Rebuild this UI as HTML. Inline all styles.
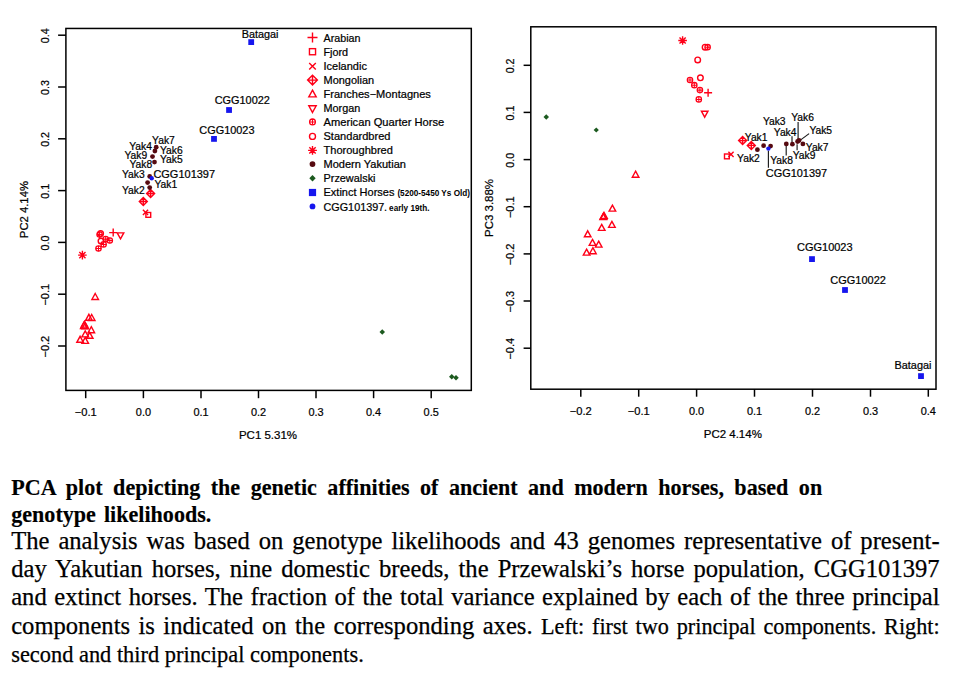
<!DOCTYPE html>
<html><head><meta charset="utf-8"><title>PCA plot</title>
<style>
html,body{margin:0;padding:0;background:#fff;}
body{width:964px;height:676px;position:relative;overflow:hidden;font-family:"Liberation Serif",serif;color:#000;}
.ln{position:absolute;left:11.2px;white-space:nowrap;text-align:justify;text-align-last:justify;line-height:28px;height:28px;}
.ln.nj{text-align:left;text-align-last:left;}
.b{font-weight:bold;font-size:22.1px;-webkit-text-stroke:0.15px #000;}
.r{font-size:24.6px;-webkit-text-stroke:0.25px #000;}
.s{font-size:22.2px;}
</style></head><body>
<svg width="964" height="462" viewBox="0 0 964 462" style="position:absolute;left:0;top:0" font-family="'Liberation Sans', sans-serif" fill="#000" stroke="#000" stroke-width="0.22" paint-order="stroke">
<rect x="65.9" y="28.45" width="405.40" height="361.95" fill="none" stroke="#000" stroke-width="1.5"/>
<path d="M58.10000000000001 35.2H65.9" stroke="#000" stroke-width="1.5"/>
<text transform="translate(48.60 35.80) rotate(-90)" font-size="10.9" text-anchor="middle" textLength="14.9" lengthAdjust="spacingAndGlyphs">0.4</text>
<path d="M58.10000000000001 87.0H65.9" stroke="#000" stroke-width="1.5"/>
<text transform="translate(48.60 87.60) rotate(-90)" font-size="10.9" text-anchor="middle" textLength="14.9" lengthAdjust="spacingAndGlyphs">0.3</text>
<path d="M58.10000000000001 138.8H65.9" stroke="#000" stroke-width="1.5"/>
<text transform="translate(48.60 139.40) rotate(-90)" font-size="10.9" text-anchor="middle" textLength="14.9" lengthAdjust="spacingAndGlyphs">0.2</text>
<path d="M58.10000000000001 190.6H65.9" stroke="#000" stroke-width="1.5"/>
<text transform="translate(48.60 191.20) rotate(-90)" font-size="10.9" text-anchor="middle" textLength="14.9" lengthAdjust="spacingAndGlyphs">0.1</text>
<path d="M58.10000000000001 242.4H65.9" stroke="#000" stroke-width="1.5"/>
<text transform="translate(48.60 243.00) rotate(-90)" font-size="10.9" text-anchor="middle" textLength="14.9" lengthAdjust="spacingAndGlyphs">0.0</text>
<path d="M58.10000000000001 294.2H65.9" stroke="#000" stroke-width="1.5"/>
<text transform="translate(48.60 294.80) rotate(-90)" font-size="10.9" text-anchor="middle" textLength="21.6" lengthAdjust="spacingAndGlyphs">−0.1</text>
<path d="M58.10000000000001 346.0H65.9" stroke="#000" stroke-width="1.5"/>
<text transform="translate(48.60 346.60) rotate(-90)" font-size="10.9" text-anchor="middle" textLength="21.6" lengthAdjust="spacingAndGlyphs">−0.2</text>
<path d="M85.7 390.4V398.2" stroke="#000" stroke-width="1.5"/>
<text x="85.70" y="416.20" font-size="10.9" text-anchor="middle" textLength="22.0" lengthAdjust="spacingAndGlyphs">−0.1</text>
<path d="M143.4 390.4V398.2" stroke="#000" stroke-width="1.5"/>
<text x="143.40" y="416.20" font-size="10.9" text-anchor="middle" textLength="15.2" lengthAdjust="spacingAndGlyphs">0.0</text>
<path d="M201.0 390.4V398.2" stroke="#000" stroke-width="1.5"/>
<text x="201.00" y="416.20" font-size="10.9" text-anchor="middle" textLength="15.2" lengthAdjust="spacingAndGlyphs">0.1</text>
<path d="M258.5 390.4V398.2" stroke="#000" stroke-width="1.5"/>
<text x="258.50" y="416.20" font-size="10.9" text-anchor="middle" textLength="15.2" lengthAdjust="spacingAndGlyphs">0.2</text>
<path d="M316.0 390.4V398.2" stroke="#000" stroke-width="1.5"/>
<text x="316.00" y="416.20" font-size="10.9" text-anchor="middle" textLength="15.2" lengthAdjust="spacingAndGlyphs">0.3</text>
<path d="M373.6 390.4V398.2" stroke="#000" stroke-width="1.5"/>
<text x="373.60" y="416.20" font-size="10.9" text-anchor="middle" textLength="15.2" lengthAdjust="spacingAndGlyphs">0.4</text>
<path d="M431.2 390.4V398.2" stroke="#000" stroke-width="1.5"/>
<text x="431.20" y="416.20" font-size="10.9" text-anchor="middle" textLength="15.2" lengthAdjust="spacingAndGlyphs">0.5</text>
<text transform="translate(27.80 209.60) rotate(-90)" font-size="10.9" text-anchor="middle" textLength="57.1" lengthAdjust="spacingAndGlyphs">PC2 4.14%</text>
<text x="268.00" y="439.10" font-size="10.9" text-anchor="middle" textLength="58.1" lengthAdjust="spacingAndGlyphs">PC1 5.31%</text>
<path d="M95.20 293.50L98.50 299.50L91.90 299.50Z" stroke="#ff0018" stroke-width="1.4" fill="none" stroke-linejoin="miter"/>
<path d="M88.90 314.30L92.20 320.30L85.60 320.30Z" stroke="#ff0018" stroke-width="1.4" fill="none" stroke-linejoin="miter"/>
<path d="M91.70 314.50L95.00 320.50L88.40 320.50Z" stroke="#ff0018" stroke-width="1.4" fill="none" stroke-linejoin="miter"/>
<path d="M84.50 321.10L87.80 327.10L81.20 327.10Z" stroke="#ff0018" stroke-width="1.4" fill="none" stroke-linejoin="miter"/>
<path d="M85.20 322.90L88.50 328.90L81.90 328.90Z" stroke="#ff0018" stroke-width="1.4" fill="none" stroke-linejoin="miter"/>
<path d="M83.80 322.50L87.10 328.50L80.50 328.50Z" stroke="#ff0018" stroke-width="1.4" fill="none" stroke-linejoin="miter"/>
<path d="M91.30 326.70L94.60 332.70L88.00 332.70Z" stroke="#ff0018" stroke-width="1.4" fill="none" stroke-linejoin="miter"/>
<path d="M85.20 330.90L88.50 336.90L81.90 336.90Z" stroke="#ff0018" stroke-width="1.4" fill="none" stroke-linejoin="miter"/>
<path d="M89.70 332.30L93.00 338.30L86.40 338.30Z" stroke="#ff0018" stroke-width="1.4" fill="none" stroke-linejoin="miter"/>
<path d="M80.10 336.30L83.40 342.30L76.80 342.30Z" stroke="#ff0018" stroke-width="1.4" fill="none" stroke-linejoin="miter"/>
<path d="M85.20 337.40L88.50 343.40L81.90 343.40Z" stroke="#ff0018" stroke-width="1.4" fill="none" stroke-linejoin="miter"/>
<path d="M78.10 255.10H86.70M82.40 250.80V259.40M79.30 252.00L85.50 258.20M79.30 258.20L85.50 252.00" stroke="#ff0018" stroke-width="1.4" fill="none"/>
<circle cx="105.70" cy="239.10" r="2.7" stroke="#ff0018" stroke-width="1.26" fill="none"/><path d="M103.00 239.10H108.40M105.70 236.40V241.80" stroke="#ff0018" stroke-width="1.05" fill="none"/>
<circle cx="109.80" cy="240.50" r="2.7" stroke="#ff0018" stroke-width="1.26" fill="none"/><path d="M107.10 240.50H112.50M109.80 237.80V243.20" stroke="#ff0018" stroke-width="1.05" fill="none"/>
<circle cx="103.60" cy="244.40" r="2.7" stroke="#ff0018" stroke-width="1.26" fill="none"/><path d="M100.90 244.40H106.30M103.60 241.70V247.10" stroke="#ff0018" stroke-width="1.05" fill="none"/>
<circle cx="98.50" cy="248.50" r="2.7" stroke="#ff0018" stroke-width="1.26" fill="none"/><path d="M95.80 248.50H101.20M98.50 245.80V251.20" stroke="#ff0018" stroke-width="1.05" fill="none"/>
<circle cx="99.60" cy="234.60" r="2.7" stroke="#ff0018" stroke-width="1.26" fill="none"/><path d="M96.90 234.60H102.30M99.60 231.90V237.30" stroke="#ff0018" stroke-width="1.05" fill="none"/>
<circle cx="100.60" cy="233.60" r="2.8" stroke="#ff0018" stroke-width="1.4" fill="none"/>
<circle cx="101.00" cy="241.00" r="2.8" stroke="#ff0018" stroke-width="1.4" fill="none"/>
<path d="M109.20 232.60H117.20M113.20 228.60V236.60" stroke="#ff0018" stroke-width="1.4" fill="none"/>
<path d="M120.50 238.90L123.80 232.90L117.20 232.90Z" stroke="#ff0018" stroke-width="1.4" fill="none"/>
<path d="M142.90 209.80L148.10 215.00M142.90 215.00L148.10 209.80" stroke="#ff0018" stroke-width="1.4" fill="none"/>
<rect x="145.90" y="212.50" width="4.8" height="4.8" stroke="#ff0018" stroke-width="1.4" fill="none"/>
<path d="M146.60 193.50L150.60 189.50L154.60 193.50L150.60 197.50ZM146.60 193.50H154.60M150.60 189.50V197.50" stroke="#ff0018" stroke-width="1.4" fill="none"/>
<path d="M139.30 201.50L143.30 197.50L147.30 201.50L143.30 205.50ZM139.30 201.50H147.30M143.30 197.50V205.50" stroke="#ff0018" stroke-width="1.4" fill="none"/>
<circle cx="156.20" cy="147.20" r="2.4" fill="#560a10" stroke="none"/>
<circle cx="154.90" cy="151.00" r="2.4" fill="#560a10" stroke="none"/>
<circle cx="152.50" cy="156.60" r="2.4" fill="#560a10" stroke="none"/>
<circle cx="154.50" cy="162.10" r="2.4" fill="#560a10" stroke="none"/>
<circle cx="149.70" cy="176.40" r="2.4" fill="#560a10" stroke="none"/>
<circle cx="147.60" cy="182.60" r="2.4" fill="#560a10" stroke="none"/>
<circle cx="149.70" cy="187.60" r="2.4" fill="#560a10" stroke="none"/>
<circle cx="151.70" cy="178.20" r="2.2" fill="#1616ee" stroke="none"/>
<path d="M379.50 332.00L382.25 329.25L385.00 332.00L382.25 334.75Z" fill="#1c5a1f" stroke="none"/>
<path d="M449.00 376.75L451.75 374.00L454.50 376.75L451.75 379.50Z" fill="#1c5a1f" stroke="none"/>
<path d="M453.25 377.75L456.00 375.00L458.75 377.75L456.00 380.50Z" fill="#1c5a1f" stroke="none"/>
<rect x="248.30" y="39.20" width="5.8" height="5.8" fill="#1616ee" stroke="none"/>
<rect x="226.15" y="107.10" width="5.8" height="5.8" fill="#1616ee" stroke="none"/>
<rect x="211.10" y="136.00" width="5.8" height="5.8" fill="#1616ee" stroke="none"/>
<text x="152.10" y="143.70" font-size="10.9" text-anchor="start" textLength="22.7" lengthAdjust="spacingAndGlyphs">Yak7</text>
<text x="129.20" y="149.50" font-size="10.9" text-anchor="start" textLength="22.7" lengthAdjust="spacingAndGlyphs">Yak4</text>
<text x="160.00" y="154.00" font-size="10.9" text-anchor="start" textLength="22.7" lengthAdjust="spacingAndGlyphs">Yak6</text>
<text x="124.50" y="159.30" font-size="10.9" text-anchor="start" textLength="22.7" lengthAdjust="spacingAndGlyphs">Yak9</text>
<text x="160.00" y="163.40" font-size="10.9" text-anchor="start" textLength="22.7" lengthAdjust="spacingAndGlyphs">Yak5</text>
<text x="129.50" y="168.10" font-size="10.9" text-anchor="start" textLength="22.7" lengthAdjust="spacingAndGlyphs">Yak8</text>
<text x="122.00" y="178.40" font-size="10.9" text-anchor="start" textLength="22.7" lengthAdjust="spacingAndGlyphs">Yak3</text>
<text x="154.50" y="188.40" font-size="10.9" text-anchor="start" textLength="22.7" lengthAdjust="spacingAndGlyphs">Yak1</text>
<text x="122.00" y="194.00" font-size="10.9" text-anchor="start" textLength="22.7" lengthAdjust="spacingAndGlyphs">Yak2</text>
<text x="153.40" y="178.40" font-size="10.9" text-anchor="start" textLength="61.7" lengthAdjust="spacingAndGlyphs">CGG101397</text>
<text x="241.70" y="38.10" font-size="10.9" text-anchor="start" textLength="36.8" lengthAdjust="spacingAndGlyphs">Batagai</text>
<text x="214.70" y="104.10" font-size="10.9" text-anchor="start" textLength="55.2" lengthAdjust="spacingAndGlyphs">CGG10022</text>
<text x="199.30" y="133.80" font-size="10.9" text-anchor="start" textLength="55.2" lengthAdjust="spacingAndGlyphs">CGG10023</text>
<path d="M307.50 37.50H317.50M312.50 32.50V42.50" stroke="#ff0018" stroke-width="1.4" fill="none"/>
<rect x="309.45" y="48.65" width="6.1" height="6.1" stroke="#ff0018" stroke-width="1.4" fill="none"/>
<path d="M309.20 62.90L315.80 69.50M309.20 69.50L315.80 62.90" stroke="#ff0018" stroke-width="1.4" fill="none"/>
<path d="M307.60 80.10L312.50 75.20L317.40 80.10L312.50 85.00ZM307.60 80.10H317.40M312.50 75.20V85.00" stroke="#ff0018" stroke-width="1.4" fill="none"/>
<path d="M312.50 90.15L316.20 96.85L308.80 96.85Z" stroke="#ff0018" stroke-width="1.4" fill="none" stroke-linejoin="miter"/>
<path d="M312.50 112.45L316.20 105.75L308.80 105.75Z" stroke="#ff0018" stroke-width="1.4" fill="none"/>
<circle cx="312.50" cy="121.90" r="2.9" stroke="#ff0018" stroke-width="1.26" fill="none"/><path d="M309.60 121.90H315.40M312.50 119.00V124.80" stroke="#ff0018" stroke-width="1.05" fill="none"/>
<circle cx="312.50" cy="136.40" r="3.0" stroke="#ff0018" stroke-width="1.4" fill="none"/>
<path d="M308.10 150.40H316.90M312.50 146.00V154.80M309.33 147.23L315.67 153.57M309.33 153.57L315.67 147.23" stroke="#ff0018" stroke-width="1.4" fill="none"/>
<circle cx="312.50" cy="164.10" r="2.9" fill="#560a10" stroke="none"/>
<path d="M309.30 178.30L312.50 175.10L315.70 178.30L312.50 181.50Z" fill="#1c5a1f" stroke="none"/>
<rect x="308.90" y="188.90" width="7.2" height="7.2" fill="#1616ee" stroke="none"/>
<circle cx="312.50" cy="206.40" r="2.9" fill="#1616ee" stroke="none"/>
<text x="323.50" y="41.75" font-size="10.9" text-anchor="start" textLength="37.0" lengthAdjust="spacingAndGlyphs">Arabian</text>
<text x="323.50" y="55.85" font-size="10.9" text-anchor="start" textLength="24.6" lengthAdjust="spacingAndGlyphs">Fjord</text>
<text x="323.50" y="70.05" font-size="10.9" text-anchor="start" textLength="43.4" lengthAdjust="spacingAndGlyphs">Icelandic</text>
<text x="323.50" y="84.15" font-size="10.9" text-anchor="start" textLength="50.6" lengthAdjust="spacingAndGlyphs">Mongolian</text>
<text x="323.50" y="98.15" font-size="10.9" text-anchor="start" textLength="107.4" lengthAdjust="spacingAndGlyphs">Franches−Montagnes</text>
<text x="323.50" y="112.25" font-size="10.9" text-anchor="start" textLength="36.8" lengthAdjust="spacingAndGlyphs">Morgan</text>
<text x="323.50" y="126.25" font-size="10.9" text-anchor="start" textLength="120.8" lengthAdjust="spacingAndGlyphs">American Quarter Horse</text>
<text x="323.50" y="140.45" font-size="10.9" text-anchor="start" textLength="67.0" lengthAdjust="spacingAndGlyphs">Standardbred</text>
<text x="323.50" y="154.45" font-size="10.9" text-anchor="start" textLength="69.4" lengthAdjust="spacingAndGlyphs">Thoroughbred</text>
<text x="323.50" y="168.35" font-size="10.9" text-anchor="start" textLength="82.4" lengthAdjust="spacingAndGlyphs">Modern Yakutian</text>
<text x="323.50" y="182.45" font-size="10.9" text-anchor="start" textLength="52.0" lengthAdjust="spacingAndGlyphs">Przewalski</text>
<text x="323.50" y="196.45" font-size="10.9" text-anchor="start" textLength="71.0" lengthAdjust="spacingAndGlyphs">Extinct Horses</text>
<text x="323.50" y="210.55" font-size="10.9" text-anchor="start" textLength="60.7" lengthAdjust="spacingAndGlyphs">CGG101397</text>
<text x="397.40" y="196.40" font-size="8.2" text-anchor="start" textLength="72.6" lengthAdjust="spacingAndGlyphs" font-weight="bold" stroke="none">(5200-5450 Ys Old)</text>
<text x="383.90" y="210.60" font-size="10.9" text-anchor="start">.</text>
<text x="389.10" y="211.10" font-size="8.2" text-anchor="start" textLength="40.4" lengthAdjust="spacingAndGlyphs" font-weight="bold" stroke="none">early 19th.</text>
<rect x="530.8" y="26.8" width="405.20" height="362.40" fill="none" stroke="#000" stroke-width="1.5"/>
<path d="M523.5999999999999 65.3H530.8" stroke="#000" stroke-width="1.5"/>
<text transform="translate(514.30 65.90) rotate(-90)" font-size="10.9" text-anchor="middle" textLength="14.9" lengthAdjust="spacingAndGlyphs">0.2</text>
<path d="M523.5999999999999 112.4H530.8" stroke="#000" stroke-width="1.5"/>
<text transform="translate(514.30 113.00) rotate(-90)" font-size="10.9" text-anchor="middle" textLength="14.9" lengthAdjust="spacingAndGlyphs">0.1</text>
<path d="M523.5999999999999 159.6H530.8" stroke="#000" stroke-width="1.5"/>
<text transform="translate(514.30 160.20) rotate(-90)" font-size="10.9" text-anchor="middle" textLength="14.9" lengthAdjust="spacingAndGlyphs">0.0</text>
<path d="M523.5999999999999 206.7H530.8" stroke="#000" stroke-width="1.5"/>
<text transform="translate(514.30 207.30) rotate(-90)" font-size="10.9" text-anchor="middle" textLength="21.6" lengthAdjust="spacingAndGlyphs">−0.1</text>
<path d="M523.5999999999999 253.9H530.8" stroke="#000" stroke-width="1.5"/>
<text transform="translate(514.30 254.50) rotate(-90)" font-size="10.9" text-anchor="middle" textLength="21.6" lengthAdjust="spacingAndGlyphs">−0.2</text>
<path d="M523.5999999999999 301.0H530.8" stroke="#000" stroke-width="1.5"/>
<text transform="translate(514.30 301.60) rotate(-90)" font-size="10.9" text-anchor="middle" textLength="21.6" lengthAdjust="spacingAndGlyphs">−0.3</text>
<path d="M523.5999999999999 348.2H530.8" stroke="#000" stroke-width="1.5"/>
<text transform="translate(514.30 348.80) rotate(-90)" font-size="10.9" text-anchor="middle" textLength="21.6" lengthAdjust="spacingAndGlyphs">−0.4</text>
<path d="M580.8 389.2V396.7" stroke="#000" stroke-width="1.5"/>
<text x="580.80" y="415.10" font-size="10.9" text-anchor="middle" textLength="22.0" lengthAdjust="spacingAndGlyphs">−0.2</text>
<path d="M638.7 389.2V396.7" stroke="#000" stroke-width="1.5"/>
<text x="638.70" y="415.10" font-size="10.9" text-anchor="middle" textLength="22.0" lengthAdjust="spacingAndGlyphs">−0.1</text>
<path d="M696.6 389.2V396.7" stroke="#000" stroke-width="1.5"/>
<text x="696.60" y="415.10" font-size="10.9" text-anchor="middle" textLength="15.2" lengthAdjust="spacingAndGlyphs">0.0</text>
<path d="M754.5 389.2V396.7" stroke="#000" stroke-width="1.5"/>
<text x="754.50" y="415.10" font-size="10.9" text-anchor="middle" textLength="15.2" lengthAdjust="spacingAndGlyphs">0.1</text>
<path d="M812.5 389.2V396.7" stroke="#000" stroke-width="1.5"/>
<text x="812.50" y="415.10" font-size="10.9" text-anchor="middle" textLength="15.2" lengthAdjust="spacingAndGlyphs">0.2</text>
<path d="M870.5 389.2V396.7" stroke="#000" stroke-width="1.5"/>
<text x="870.50" y="415.10" font-size="10.9" text-anchor="middle" textLength="15.2" lengthAdjust="spacingAndGlyphs">0.3</text>
<path d="M928.3 389.2V396.7" stroke="#000" stroke-width="1.5"/>
<text x="928.30" y="415.10" font-size="10.9" text-anchor="middle" textLength="15.2" lengthAdjust="spacingAndGlyphs">0.4</text>
<text transform="translate(493.20 208.00) rotate(-90)" font-size="10.9" text-anchor="middle" textLength="58.0" lengthAdjust="spacingAndGlyphs">PC3 3.88%</text>
<text x="732.80" y="437.90" font-size="10.9" text-anchor="middle" textLength="58.1" lengthAdjust="spacingAndGlyphs">PC2 4.14%</text>
<path d="M635.60 171.20L638.90 177.20L632.30 177.20Z" stroke="#ff0018" stroke-width="1.4" fill="none" stroke-linejoin="miter"/>
<path d="M612.40 205.10L615.70 211.10L609.10 211.10Z" stroke="#ff0018" stroke-width="1.4" fill="none" stroke-linejoin="miter"/>
<path d="M603.20 213.60L606.50 219.60L599.90 219.60Z" stroke="#ff0018" stroke-width="1.4" fill="none" stroke-linejoin="miter"/>
<path d="M604.00 212.40L607.30 218.40L600.70 218.40Z" stroke="#ff0018" stroke-width="1.4" fill="none" stroke-linejoin="miter"/>
<path d="M603.60 213.00L606.90 219.00L600.30 219.00Z" stroke="#ff0018" stroke-width="1.4" fill="none" stroke-linejoin="miter"/>
<path d="M611.90 221.40L615.20 227.40L608.60 227.40Z" stroke="#ff0018" stroke-width="1.4" fill="none" stroke-linejoin="miter"/>
<path d="M601.70 224.40L605.00 230.40L598.40 230.40Z" stroke="#ff0018" stroke-width="1.4" fill="none" stroke-linejoin="miter"/>
<path d="M587.70 230.80L591.00 236.80L584.40 236.80Z" stroke="#ff0018" stroke-width="1.4" fill="none" stroke-linejoin="miter"/>
<path d="M592.50 239.40L595.80 245.40L589.20 245.40Z" stroke="#ff0018" stroke-width="1.4" fill="none" stroke-linejoin="miter"/>
<path d="M598.70 241.10L602.00 247.10L595.40 247.10Z" stroke="#ff0018" stroke-width="1.4" fill="none" stroke-linejoin="miter"/>
<path d="M592.90 247.70L596.20 253.70L589.60 253.70Z" stroke="#ff0018" stroke-width="1.4" fill="none" stroke-linejoin="miter"/>
<path d="M586.60 249.10L589.90 255.10L583.30 255.10Z" stroke="#ff0018" stroke-width="1.4" fill="none" stroke-linejoin="miter"/>
<path d="M678.30 40.50H686.90M682.60 36.20V44.80M679.50 37.40L685.70 43.60M679.50 43.60L685.70 37.40" stroke="#ff0018" stroke-width="1.4" fill="none"/>
<circle cx="705.10" cy="47.20" r="2.8" stroke="#ff0018" stroke-width="1.4" fill="none"/>
<circle cx="707.60" cy="47.20" r="2.7" stroke="#ff0018" stroke-width="1.26" fill="none"/><path d="M704.90 47.20H710.30M707.60 44.50V49.90" stroke="#ff0018" stroke-width="1.05" fill="none"/>
<circle cx="697.70" cy="59.90" r="2.8" stroke="#ff0018" stroke-width="1.4" fill="none"/>
<circle cx="700.40" cy="77.80" r="2.8" stroke="#ff0018" stroke-width="1.4" fill="none"/>
<circle cx="690.00" cy="80.00" r="2.7" stroke="#ff0018" stroke-width="1.26" fill="none"/><path d="M687.30 80.00H692.70M690.00 77.30V82.70" stroke="#ff0018" stroke-width="1.05" fill="none"/>
<circle cx="694.30" cy="85.20" r="2.7" stroke="#ff0018" stroke-width="1.26" fill="none"/><path d="M691.60 85.20H697.00M694.30 82.50V87.90" stroke="#ff0018" stroke-width="1.05" fill="none"/>
<circle cx="699.90" cy="90.10" r="2.7" stroke="#ff0018" stroke-width="1.26" fill="none"/><path d="M697.20 90.10H702.60M699.90 87.40V92.80" stroke="#ff0018" stroke-width="1.05" fill="none"/>
<circle cx="698.80" cy="99.40" r="2.7" stroke="#ff0018" stroke-width="1.26" fill="none"/><path d="M696.10 99.40H701.50M698.80 96.70V102.10" stroke="#ff0018" stroke-width="1.05" fill="none"/>
<path d="M704.10 92.80H712.10M708.10 88.80V96.80" stroke="#ff0018" stroke-width="1.4" fill="none"/>
<path d="M704.70 117.20L708.00 111.20L701.40 111.20Z" stroke="#ff0018" stroke-width="1.4" fill="none"/>
<path d="M543.50 117.00L546.25 114.25L549.00 117.00L546.25 119.75Z" fill="#1c5a1f" stroke="none"/>
<path d="M593.65 130.00L596.25 127.40L598.85 130.00L596.25 132.60Z" fill="#1c5a1f" stroke="none"/>
<path d="M738.60 140.60L742.60 136.60L746.60 140.60L742.60 144.60ZM738.60 140.60H746.60M742.60 136.60V144.60" stroke="#ff0018" stroke-width="1.4" fill="none"/>
<path d="M747.30 145.40L751.30 141.40L755.30 145.40L751.30 149.40ZM747.30 145.40H755.30M751.30 141.40V149.40" stroke="#ff0018" stroke-width="1.4" fill="none"/>
<rect x="724.50" y="154.00" width="4.8" height="4.8" stroke="#ff0018" stroke-width="1.4" fill="none"/>
<path d="M728.40 151.80L733.60 157.00M728.40 157.00L733.60 151.80" stroke="#ff0018" stroke-width="1.4" fill="none"/>
<path d="M798.1 122.1V139.5" stroke="#1a1a1a" stroke-width="1.15" fill="none"/>
<path d="M792 136.2V142.5" stroke="#1a1a1a" stroke-width="1.15" fill="none"/>
<path d="M809.1 133.6L800.7 139.9" stroke="#1a1a1a" stroke-width="1.15" fill="none"/>
<path d="M786.2 146.0V155.5" stroke="#1a1a1a" stroke-width="1.15" fill="none"/>
<path d="M797.1 144.2V150.2" stroke="#1a1a1a" stroke-width="1.15" fill="none"/>
<path d="M768.4 150.7V167.7" stroke="#1a1a1a" stroke-width="1.15" fill="none"/>
<circle cx="757.40" cy="149.70" r="2.4" fill="#560a10" stroke="none"/>
<circle cx="763.60" cy="145.70" r="2.4" fill="#560a10" stroke="none"/>
<circle cx="770.60" cy="146.10" r="2.4" fill="#560a10" stroke="none"/>
<circle cx="786.30" cy="143.90" r="2.4" fill="#560a10" stroke="none"/>
<circle cx="792.40" cy="144.20" r="2.4" fill="#560a10" stroke="none"/>
<circle cx="797.60" cy="141.50" r="2.4" fill="#560a10" stroke="none"/>
<circle cx="799.00" cy="140.50" r="2.4" fill="#560a10" stroke="none"/>
<circle cx="802.90" cy="143.90" r="2.4" fill="#560a10" stroke="none"/>
<circle cx="768.40" cy="148.60" r="2.2" fill="#1616ee" stroke="none"/>
<text x="791.20" y="120.90" font-size="10.9" text-anchor="start" textLength="22.7" lengthAdjust="spacingAndGlyphs">Yak6</text>
<text x="762.90" y="125.30" font-size="10.9" text-anchor="start" textLength="22.7" lengthAdjust="spacingAndGlyphs">Yak3</text>
<text x="809.40" y="133.90" font-size="10.9" text-anchor="start" textLength="22.7" lengthAdjust="spacingAndGlyphs">Yak5</text>
<text x="773.80" y="135.50" font-size="10.9" text-anchor="start" textLength="22.7" lengthAdjust="spacingAndGlyphs">Yak4</text>
<text x="744.80" y="141.00" font-size="10.9" text-anchor="start" textLength="22.7" lengthAdjust="spacingAndGlyphs">Yak1</text>
<text x="805.80" y="150.90" font-size="10.9" text-anchor="start" textLength="22.7" lengthAdjust="spacingAndGlyphs">Yak7</text>
<text x="792.70" y="159.10" font-size="10.9" text-anchor="start" textLength="22.7" lengthAdjust="spacingAndGlyphs">Yak9</text>
<text x="737.10" y="161.60" font-size="10.9" text-anchor="start" textLength="22.7" lengthAdjust="spacingAndGlyphs">Yak2</text>
<text x="770.20" y="163.50" font-size="10.9" text-anchor="start" textLength="22.7" lengthAdjust="spacingAndGlyphs">Yak8</text>
<text x="765.80" y="177.00" font-size="10.9" text-anchor="start" textLength="61.4" lengthAdjust="spacingAndGlyphs">CGG101397</text>
<rect x="809.10" y="256.20" width="5.8" height="5.8" fill="#1616ee" stroke="none"/>
<rect x="842.10" y="287.10" width="5.8" height="5.8" fill="#1616ee" stroke="none"/>
<rect x="918.10" y="373.20" width="5.8" height="5.8" fill="#1616ee" stroke="none"/>
<text x="797.00" y="251.00" font-size="10.9" text-anchor="start" textLength="55.6" lengthAdjust="spacingAndGlyphs">CGG10023</text>
<text x="830.30" y="283.70" font-size="10.9" text-anchor="start" textLength="55.6" lengthAdjust="spacingAndGlyphs">CGG10022</text>
<text x="894.50" y="369.00" font-size="10.9" text-anchor="start" textLength="36.9" lengthAdjust="spacingAndGlyphs">Batagai</text>
</svg>

<div class="ln b" style="top:474.4px;width:811px">PCA plot depicting the genetic affinities of ancient and modern horses, based on</div>
<div class="ln b nj" style="top:500.5px;word-spacing:2.5px">genotype likelihoods.</div>
<div class="ln r" style="top:526.5px;width:928.4px">The analysis was based on genotype likelihoods and 43 genomes representative of present-</div>
<div class="ln r" style="top:555.3px;width:928.4px">day Yakutian horses, nine domestic breeds, the Przewalski’s horse population, CGG101397</div>
<div class="ln r" style="top:583.1px;width:928.4px">and extinct horses. The fraction of the total variance explained by each of the three principal</div>
<div class="ln r" style="top:611.5px;width:928.4px">components is indicated on the corresponding axes. <span class="s">Left: first two principal components. Right:</span></div>
<div class="ln r nj" style="top:639.5px"><span class="s" style="font-size:22.4px">second and third principal components.</span></div>

</body></html>
